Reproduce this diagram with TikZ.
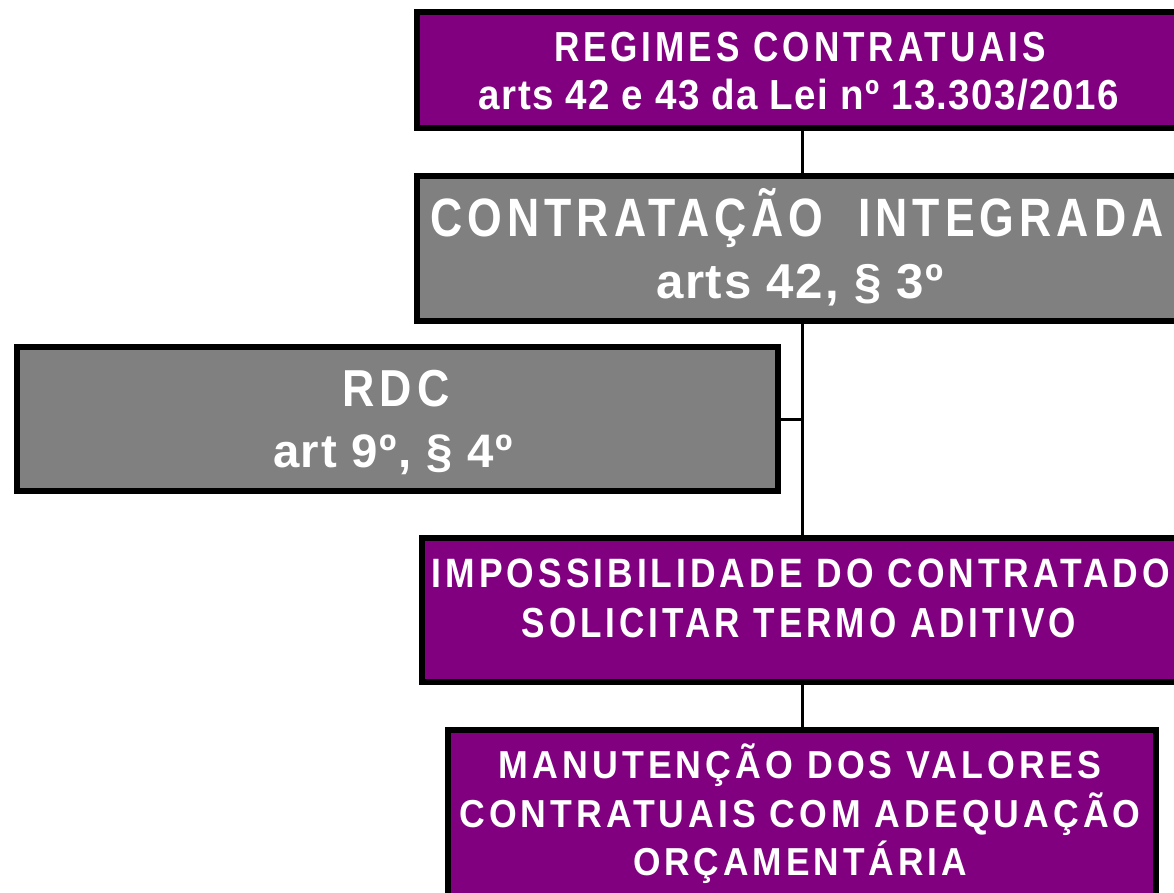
\documentclass[tikz,border=0pt]{standalone}
\usepackage{fontspec}
\setmainfont{Liberation Sans}
\newfontfamily\bxf[FakeStretch=0.80,LetterSpace=9]{Liberation Sans}
\newfontfamily\bxg[FakeStretch=0.86,LetterSpace=3]{Liberation Sans}
\definecolor{purp}{HTML}{800080}
\definecolor{grayb}{HTML}{808080}
\newcommand{\fitw}[2]{\resizebox{#1}{\height}{#2}}
\newcommand{\fsz}[1]{\bxf\bfseries\fontsize{#1}{#1}\selectfont}
\newcommand{\fsl}[1]{\bxg\bfseries\fontsize{#1}{#1}\selectfont}
\begin{document}
\begin{tikzpicture}[x=1pt,y=-1pt,
  box/.style={draw=black, line width=6pt, rectangle, inner sep=0pt},
  txt/.style={text=white, inner sep=0pt, anchor=base},
  link/.style={draw=black, line width=3pt}]
\useasboundingbox (0,0) rectangle (1174,893);
\clip (0,0) rectangle (1174,893);
% boxes
\node[box, fill=purp,  minimum width=768pt, minimum height=116pt]   (b1) at (801,70) {};
\node[box, fill=grayb, minimum width=768pt, minimum height=145pt]   (b2) at (801,248.5) {};
\node[box, fill=grayb, minimum width=761pt, minimum height=144pt]   (b3) at (397.5,419) {};
\node[box, fill=purp,  minimum width=758pt, minimum height=144pt]   (b4) at (801,610) {};
\node[box, fill=purp,  minimum width=708pt, minimum height=230.5pt] (b5) at (802,844.75) {};
% connectors
\coordinate (sp) at (802,419);
\draw[link] (b1.south -| sp) -- (b2.north -| sp);
\draw[link] (b2.south -| sp) -- (b4.north -| sp);
\draw[link] (b3.east) -- (sp);
\draw[link] (b4.south -| sp) -- (b5.north -| sp);
% texts
\node[txt, font=\fsz{42pt}] (t1a) at (800,62)  {\fitw{492pt}{REGIMES CONTRATUAIS}};
\node[txt, font=\fsl{42pt}] (t1b) at (799,110) {\fitw{640pt}{arts 42 e 43 da Lei nº 13.303/2016}};
\node[txt, font=\fsz{54pt}] (t2a) at (797,237) {\fitw{733pt}{CONTRATAÇÃO~ INTEGRADA}};
\node[txt, font=\fsl{49pt}] (t2b) at (800,298) {\fitw{288pt}{arts 42, § 3º}};
\node[txt, font=\fsz{52pt}] (t3a) at (396,406) {\fitw{107pt}{RDC}};
\node[txt, font=\fsl{47pt}] (t3b) at (393,467) {\fitw{240pt}{art 9º, § 4º}};
\node[txt, font=\fsz{41pt}] (t4a) at (801,587) {\fitw{738pt}{IMPOSSIBILIDADE DO CONTRATADO}};
\node[txt, font=\fsz{42pt}] (t4b) at (799,637) {\fitw{554pt}{SOLICITAR TERMO ADITIVO}};
\node[txt, font=\fsz{39pt}] (t5a) at (800,778) {\fitw{602pt}{MANUTENÇÃO DOS VALORES}};
\node[txt, font=\fsz{39pt}] (t5b) at (800,827) {\fitw{681pt}{CONTRATUAIS COM ADEQUAÇÃO}};
\node[txt, font=\fsz{39pt}] (t5c) at (800,875) {\fitw{334pt}{ORÇAMENTÁRIA}};
\end{tikzpicture}
\end{document}
